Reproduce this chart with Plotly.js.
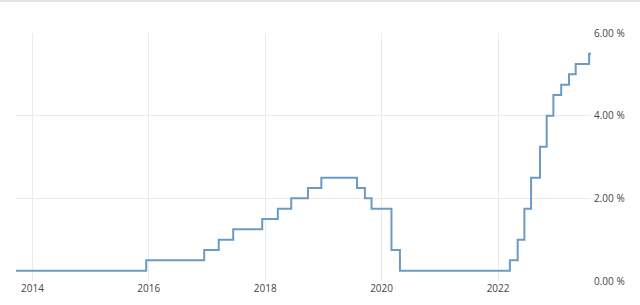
<!DOCTYPE html>
<html>
<head>
<meta charset="utf-8">
<script src="https://cdn.plot.ly/plotly-3.0.1.min.js"></script>
<style>
html,body{margin:0;padding:0;background:#fff;}
#chart{width:640px;height:305px;}
</style>
</head>
<body>
<div id="chart"></div>
<script>
// Step dates (rate change dates) and rate values (%)
const dates = [
  '2013-09-20','2015-12-16','2016-12-14','2017-03-15','2017-06-14','2017-12-13',
  '2018-03-21','2018-06-13','2018-09-26','2018-12-19','2019-07-31','2019-09-18',
  '2019-10-30','2020-03-03','2020-04-25','2022-03-16','2022-05-04','2022-06-15',
  '2022-07-27','2022-09-21','2022-11-02','2022-12-14','2023-02-01','2023-03-22',
  '2023-05-03','2023-07-26','2023-08-07'
];
const rates = [
  0.25,0.50,0.75,1.00,1.25,1.50,
  1.75,2.00,2.25,2.50,2.25,2.00,
  1.75,0.75,0.25,0.50,1.00,1.75,
  2.50,3.25,4.00,4.50,4.75,5.00,
  5.25,5.50,5.50
];
const yTicks = [0, 2, 4, 6];
const yTickText = ['0.00 %','2.00 %','4.00 %','6.00 %'];
const xTicks = ['2014-01-01','2016-01-01','2018-01-01','2020-01-01','2022-01-01'];
const xTickText = ['2014','2016','2018','2020','2022'];

const trace = {
  x: dates, y: rates, type: 'scatter', mode: 'lines',
  line: {shape: 'hv', color: '#6b9ac4', width: 2},
  hoverinfo: 'skip'
};

const layout = {
  width: 640, height: 305,
  margin: {l: 16, r: 49, t: 33, b: 24, pad: 0, autoexpand: false},
  paper_bgcolor: '#fff', plot_bgcolor: '#fff',
  showlegend: false,
  font: {family: 'Open Sans, DejaVu Sans, sans-serif', size: 10, color: '#333'},
  xaxis: {
    type: 'date', range: ['2013-09-20','2023-08-07'],
    tickmode: 'array', tickvals: xTicks, ticktext: xTickText,
    showgrid: true, gridcolor: '#ebebeb', gridwidth: 1,
    zeroline: false, showline: false, ticks: '',
    automargin: false,
    tickfont: {size: 10, color: '#444'}
  },
  yaxis: {
    range: [0, 6], side: 'right',
    tickmode: 'array', tickvals: yTicks, ticktext: yTickText,
    showgrid: true, gridcolor: '#ebebeb', gridwidth: 1,
    zeroline: false, showline: false, ticks: '',
    automargin: false,
    ticklabelstandoff: 2,
    tickfont: {family: 'Liberation Sans Narrow, Open Sans, sans-serif', size: 10, color: '#444'}
  },
  shapes: [{
    type: 'line', xref: 'paper', yref: 'paper',
    x0: -0.05, x1: 1.2, y0: 1.129, y1: 1.129,
    line: {color: '#e3e3e3', width: 2}
  }]
};

Plotly.newPlot('chart', [trace], layout, {displayModeBar: false, staticPlot: true});
</script>
</body>
</html>
